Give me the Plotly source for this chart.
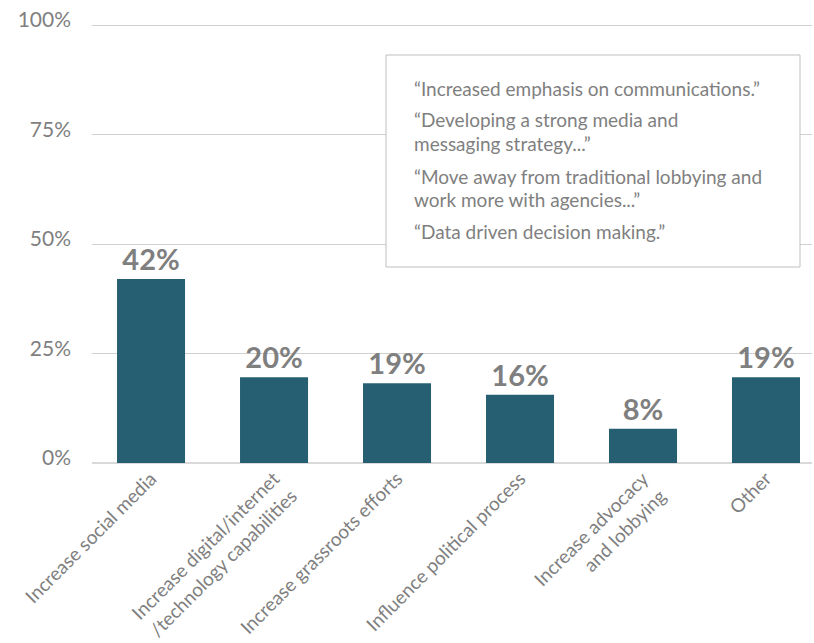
import plotly.graph_objects as go

categories = ["Increase social media",
              "Increase digital/internet<br>/technology capabilities",
              "Increase grassroots efforts",
              "Influence political process",
              "Increase advocacy<br>and lobbying",
              "Other"]
values = [42, 19.6, 18.2, 15.6, 7.8, 19.6]
labels = ["42%", "20%", "19%", "16%", "8%", "19%"]
y_ticks = [0, 25, 50, 75, 100]
y_tick_text = ["0%", "25%", "50%", "75%", "100%"]
quote_lines = ["“Increased emphasis on communications.”",
               "“Developing a strong media and",
               "messaging strategy...”",
               "“Move away from traditional lobbying and",
               "work more with agencies...”",
               "“Data driven decision making.”"]
quote_line_y = [88, 120, 143, 176, 199, 231]  # pixel rows

GRAY = "#7f7f7f"
L, R, T, B = 92, 2, 18, 180
W, H = 814, 643
pw, ph = W - L - R, H - T - B
ymax = 100 * ph / 438.0

fig = go.Figure(go.Bar(
    x=list(range(len(categories))), y=values, text=labels,
    textposition="outside", cliponaxis=False,
    textfont=dict(family="Lato", size=29, color=GRAY, weight="bold"),
    marker=dict(color="#265F72", line=dict(width=0)),
    width=0.553,
))

def py(pix):
    return (H - B - pix) / ph

fig.add_shape(type="rect", xref="paper", yref="paper",
              x0=(386 - L) / pw, x1=(800 - L) / pw, y0=py(267), y1=py(55),
              line=dict(color="#bfbfbf", width=1), fillcolor="white", layer="above")
for line, yp in zip(quote_lines, quote_line_y):
    fig.add_annotation(xref="paper", yref="paper", x=(412 - L) / pw, y=py(yp),
                       xanchor="left", yanchor="middle", text=line, showarrow=False,
                       font=dict(family="Lato", size=19, color=GRAY))

fig.update_layout(
    width=W, height=H, margin=dict(l=L, r=R, t=T, b=B),
    plot_bgcolor="white", paper_bgcolor="white", showlegend=False,
    xaxis=dict(tickmode="array", tickvals=list(range(len(categories))), ticktext=categories,
               range=[-0.48, 5.374], tickangle=-45, showgrid=False, zeroline=False,
               showline=False, ticks="",
               tickfont=dict(family="Lato", size=19, color=GRAY)),
    yaxis=dict(range=[0, ymax], tickmode="array", tickvals=y_ticks, ticktext=y_tick_text,
               showgrid=True, gridcolor="#d0d0d0", gridwidth=1, zeroline=True,
               zerolinecolor="#d9d9d9", zerolinewidth=2, ticks="", ticklabelstandoff=20,
               ticklabelshift=-5,
               tickfont=dict(family="Lato", size=21, color=GRAY)),
)
fig.write_html("out.html")
